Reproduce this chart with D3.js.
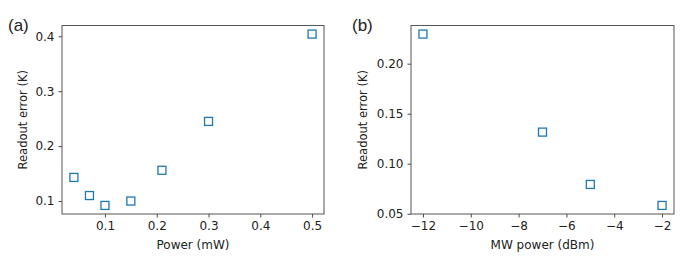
<!DOCTYPE html>
<html>
<head>
<meta charset="utf-8">
<script src="https://cdn.jsdelivr.net/npm/d3@7"></script>
<style>
  body { margin: 0; background: #fff; }
  text { font-family: "DejaVu Sans", sans-serif; fill: #222; }
</style>
</head>
<body>
<div id="main"></div>
<script>
"use strict";

// panel (a)
const powerMW = [0.04, 0.07, 0.1, 0.15, 0.21, 0.3, 0.5];
const errorA = [0.143, 0.110, 0.092, 0.100, 0.156, 0.245, 0.404];
const ticksA_x = [0.1, 0.2, 0.3, 0.4, 0.5];
const ticksA_y = [0.1, 0.2, 0.3, 0.4];

// panel (b)
const mwPowerDbm = [-12, -7, -5, -2];
const errorB = [0.2296, 0.1316, 0.0793, 0.0583];
const ticksB_x = [-12, -10, -8, -6, -4, -2];
const ticksB_y = [0.05, 0.10, 0.15, 0.20];

const W = 698, H = 262;
const svg = d3.select("#main").append("svg").attr("width", W).attr("height", H);

// matplotlib-like 5% auto margin
function padded(vals) {
    const [a, b] = d3.extent(vals);
    const m = (b - a) * 0.05;
    return [a - m, b + m];
}

function drawPanel(opt) {
    const g = svg.append("g");
    const x = d3.scaleLinear().domain(padded(opt.xs)).range([opt.left, opt.right]);
    const y = d3.scaleLinear().domain(padded(opt.ys)).range([opt.bottom, opt.top]);

    const xAxis = g.append("g")
        .attr("transform", `translate(0,${opt.bottom})`)
        .call(d3.axisBottom(x).tickValues(opt.xt).tickSize(3.5).tickPadding(4)
            .tickFormat(opt.xf).tickSizeOuter(0));
    const yAxis = g.append("g")
        .attr("transform", `translate(${opt.left},0)`)
        .call(d3.axisLeft(y).tickValues(opt.yt).tickSize(3.5).tickPadding(4)
            .tickFormat(opt.yf).tickSizeOuter(0));
    [xAxis, yAxis].forEach(a => {
        a.select(".domain").remove();
        a.selectAll(".tick line").attr("stroke", "#333").attr("stroke-width", 0.9);
        a.selectAll(".tick text").style("font-size", "12px").attr("fill", "#222");
    });

    // frame
    g.append("rect")
        .attr("x", opt.left).attr("y", opt.top)
        .attr("width", opt.right - opt.left).attr("height", opt.bottom - opt.top)
        .attr("fill", "none").attr("stroke", "#555").attr("stroke-width", 1);

    // markers
    const s = 8;
    g.append("g").selectAll("rect")
        .data(opt.xs.map((v, i) => [v, opt.ys[i]]))
        .join("rect")
        .attr("x", d => x(d[0]) - s / 2)
        .attr("y", d => y(d[1]) - s / 2)
        .attr("width", s).attr("height", s)
        .attr("fill", "none").attr("stroke", "#1f77b4").attr("stroke-width", 1.3);

    g.append("text")
        .attr("x", (opt.left + opt.right) / 2).attr("y", 249)
        .attr("text-anchor", "middle").style("font-size", "12px")
        .text(opt.xlabel);
    g.append("text")
        .attr("transform", `translate(${opt.ylabX},${(opt.top + opt.bottom) / 2}) rotate(-90)`)
        .attr("text-anchor", "middle").style("font-size", "11.5px")
        .text("Readout error (K)");
    g.append("text")
        .attr("x", opt.tagX).attr("y", 31)
        .style("font-family", "'Liberation Sans', Arial, sans-serif")
        .style("font-size", "17px")
        .text(opt.tag);
}

drawPanel({
    xs: powerMW, ys: errorA, xt: ticksA_x, yt: ticksA_y,
    xf: d3.format(".1f"), yf: d3.format(".1f"),
    left: 62, right: 324, top: 25.5, bottom: 214,
    xlabel: "Power (mW)", ylabX: 27, tag: "(a)", tagX: 8
});

drawPanel({
    xs: mwPowerDbm, ys: errorB, xt: ticksB_x, yt: ticksB_y,
    xf: d => d3.format("d")(d).replace("-", "\u2212"), yf: d3.format(".2f"),
    left: 411, right: 674, top: 25.5, bottom: 214,
    xlabel: "MW power (dBm)", ylabX: 367, tag: "(b)", tagX: 352
});
</script>
</body>
</html>
